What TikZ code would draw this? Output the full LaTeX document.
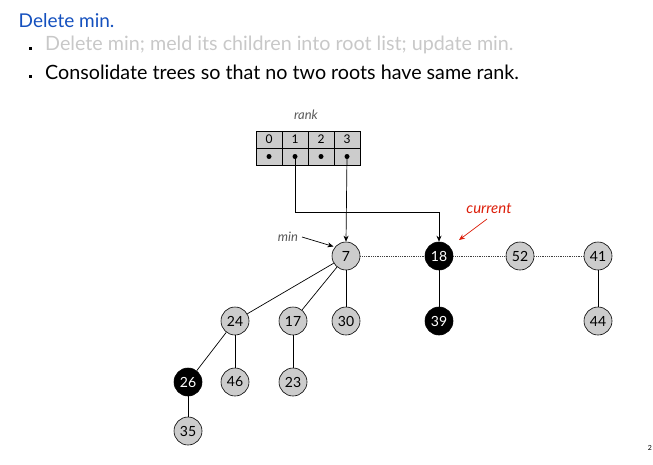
\documentclass[tikz,border=0pt]{standalone}
\usepackage{fontspec}
\setmainfont{Lato}
\usetikzlibrary{arrows.meta}
\definecolor{titleblue}{RGB}{20,80,190}
\definecolor{dimgray}{RGB}{200,200,200}
\definecolor{nodegray}{RGB}{204,204,204}
\definecolor{curred}{RGB}{220,30,10}
\begin{document}
\begin{tikzpicture}[x=1pt,y=-1pt,
  hn/.style={circle,draw=black,line width=0.6pt,fill=nodegray,minimum size=28pt,inner sep=0pt,font=\fontsize{14}{14}\selectfont},
  bn/.style={hn,fill=black,text=white},
  tree/.style={line width=0.7pt},
  rootlink/.style={line width=0.6pt,black!75,dash pattern=on 1pt off 0.8pt},
  ptr/.style={line width=0.7pt,-{Stealth[length=6pt,width=5pt]}},
  lbl/.style={font=\itshape\fontsize{13}{13}\selectfont},
  cell/.style={draw=black,line width=0.7pt,fill=nodegray,minimum width=26pt,minimum height=17pt,inner sep=0pt,font=\fontsize{12}{12}\selectfont},
  dotn/.style={circle,fill=black,minimum size=5pt,inner sep=0pt},
  bigtext/.style={anchor=base west,inner sep=0pt,font=\fontsize{19}{19}\selectfont},
  bullettext/.style={anchor=base west,inner sep=0pt,font=\fontsize{19.7}{19.7}\selectfont},
  sq/.style={fill=black,minimum size=3.6pt,inner sep=0pt}]
\useasboundingbox (0,0) rectangle (653,464);
% text
\node[bigtext,text=titleblue] (title) at (18.5,27) {Delete min.};
\node[bullettext,text=dimgray] (b1) at (45,50) {Delete min; meld its children into root list; update min.};
\node[bullettext] (b2) at (45,79) {Consolidate trees so that no two roots have same rank.};
\node[sq] (sq1) at (30.5,48.5) {};
\node[sq] (sq2) at (30.5,76.5) {};
% rank table
\node[lbl,text=black!65] (rank) at (306,115) {rank};
\foreach \i/\x in {0/269,1/295,2/321,3/347}{
  \node[cell] (c\i) at (\x,139.5) {\i};
  \node[cell] (d\i) at (\x,156.5) {};
  \node[dotn] (p\i) at (\x,156.5) {};
}
% nodes
\node[hn] (n7) at (346,256) {7};
\node[bn] (n18) at (439,256) {18};
\node[hn] (n52) at (520,256) {52};
\node[hn] (n41) at (598,256) {41};
\node[hn] (n24) at (235,321) {24};
\node[hn] (n17) at (293,321) {17};
\node[hn] (n30) at (346,321) {30};
\node[bn] (n39) at (439,321) {39};
\node[hn] (n44) at (598,321) {44};
\node[bn] (n26) at (188,382) {26};
\node[hn] (n46) at (235,382) {46};
\node[hn] (n23) at (293,382) {23};
\node[hn] (n35) at (188,431) {35};
% root list
\draw[rootlink] (n7) -- (n18);
\draw[rootlink] (n18) -- (n52);
\draw[rootlink] (n52) -- (n41);
% tree edges
\draw[tree] (n7) -- (n24);
\draw[tree] (n7) -- (n17);
\draw[tree] (n7) -- (n30);
\draw[tree] (n24) -- (n26);
\draw[tree] (n24) -- (n46);
\draw[tree] (n17) -- (n23);
\draw[tree] (n26) -- (n35);
\draw[tree] (n18) -- (n39);
\draw[tree] (n41) -- (n44);
% pointers
\draw[ptr] (p1.center) |- (439,212) -- (n18.north);
\draw[ptr] (p3.center) -- (n7.north);
% labels
\node[lbl,text=black!65] (minl) at (288,237) {min};
\coordinate (minstart) at (302,237);
\coordinate (minend) at (333.5,246.5);
\draw[line width=0.7pt,-{Stealth[length=6pt,width=5pt]}] (minstart) -- (minend);
\node[lbl,text=curred,font=\itshape\fontsize{15}{15}\selectfont] (curl) at (489,209) {current};
\coordinate (curstart) at (487,219);
\coordinate (curend) at (459,240);
\draw[line width=0.7pt,curred,-{Stealth[length=6pt,width=5pt]}] (curstart) -- (curend);
\node[font=\fontsize{7}{7}\selectfont] (pg) at (650,448) {2};
\end{tikzpicture}
\end{document}
